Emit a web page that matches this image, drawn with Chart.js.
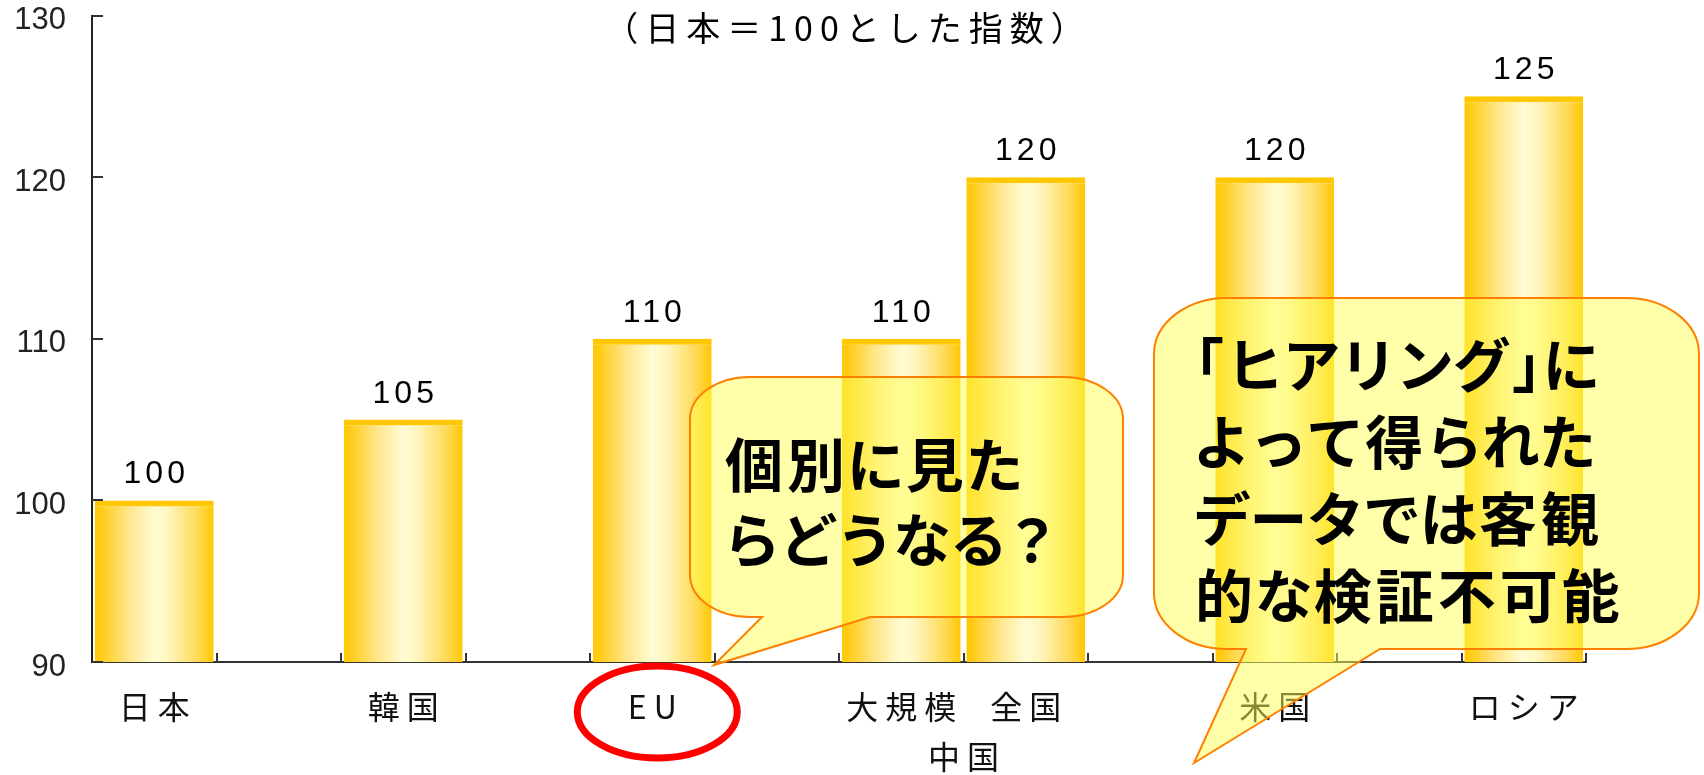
<!DOCTYPE html>
<html lang="ja">
<head>
<meta charset="utf-8">
<title>日本＝100とした指数</title>
<script src="https://cdn.jsdelivr.net/npm/chart.js@4.4.1/dist/chart.umd.min.js"></script>
<style>
  html, body { margin: 0; padding: 0; background: #fff; }
  #wrap { width: 1704px; height: 775px; position: relative; }
</style>
</head>
<body>
<div id="wrap"><canvas id="chart"></canvas></div>
<script>
// data (empty categories keep the gaps between the groups)
const categories = ['日本', '', '韓国', '', 'EU', '', '大規模', '全国', '', '米国', '', 'ロシア'];
const values = [100, null, 105, null, 110, null, 110, 120, null, 120, null, 125];
const yTicks = [90, 100, 110, 120, 130];
const groupLabels = [{ text: '中国', from: 6, to: 7 }];
const titleText = '（日本＝100とした指数）';
const note1 = ['個別に見た', 'らどうなる？'];
const note2 = ['「ヒアリング」に', 'よって得られた', 'データでは客観', '的な検証不可能'];

const JP = '"Noto Sans CJK JP", sans-serif';
const NUM = '"Liberation Sans", Arial, sans-serif';
const BAR_PCT = 0.955;
const LABEL_GAP = 7;

// callouts drawn on top (pixel positions of the overlay shapes)
const callouts = [
    { l: 690, t: 377, r: 1123, b: 617, rx: 60, ry: 42, baseL: 762, baseR: 870, tip: [714, 665],
      lines: note1, tx: 725, ty: 487, lh: 75 },
    { l: 1154, t: 298, r: 1699, b: 649, rx: 73, ry: 56, baseL: 1246, baseR: 1380, tip: [1194, 763],
      lines: note2, tx: 1195, ty: 387, lh: 77 }
];

function barFill(c) {
    const chart = c.chart;
    const x = chart.scales.x;
    if (c.dataIndex === undefined || !x || !chart.chartArea) return '#FFD84A';
    const cx = x.getPixelForValue(c.dataIndex);
    const half = x.width / categories.length * BAR_PCT / 2;
    const g = chart.ctx.createLinearGradient(cx - half, 0, cx + half, 0);
    g.addColorStop(0, '#FFC800');
    g.addColorStop(0.06, '#FFCC1A');
    g.addColorStop(0.28, '#FFE68A');
    g.addColorStop(0.5, '#FFFCD4');
    g.addColorStop(0.62, '#FFF6BE');
    g.addColorStop(0.86, '#FFDA5A');
    g.addColorStop(1, '#FFC800');
    return g;
}

function calloutPath(ctx, o) {
    ctx.beginPath();
    ctx.moveTo(o.l + o.rx, o.t);
    ctx.lineTo(o.r - o.rx, o.t);
    ctx.ellipse(o.r - o.rx, o.t + o.ry, o.rx, o.ry, 0, -Math.PI / 2, 0);
    ctx.lineTo(o.r, o.b - o.ry);
    ctx.ellipse(o.r - o.rx, o.b - o.ry, o.rx, o.ry, 0, 0, Math.PI / 2);
    ctx.lineTo(o.baseR, o.b);
    ctx.lineTo(o.tip[0], o.tip[1]);
    ctx.lineTo(o.baseL, o.b);
    ctx.lineTo(o.l + o.rx, o.b);
    ctx.ellipse(o.l + o.rx, o.b - o.ry, o.rx, o.ry, 0, Math.PI / 2, Math.PI);
    ctx.lineTo(o.l, o.t + o.ry);
    ctx.ellipse(o.l + o.rx, o.t + o.ry, o.rx, o.ry, 0, Math.PI, Math.PI * 1.5);
    ctx.closePath();
}

// proportional-ish Japanese line: kana a bit narrower, brackets half width
const halfChars = { '「': -0.5, '」': 0 };
function drawJP(ctx, text, x, y, size, gap) {
    for (const ch of text) {
        const w = ctx.measureText(ch).width;
        if (ch in halfChars) {
            ctx.fillText(ch, x + halfChars[ch] * size, y);
            x += size * 0.5 + gap;
        } else if (ch === '？') {
            ctx.fillText(ch, x - size * 0.1, y);
            x += w * 0.8 + gap;
        } else if (/[\u3040-\u30ff]/.test(ch)) {
            ctx.fillText(ch, x - w * 0.04, y);
            x += w * 0.91 + gap;
        } else {
            ctx.fillText(ch, x, y);
            x += w + gap;
        }
    }
}

const decor = {
    id: 'decor',
    afterDatasetsDraw(chart) {
        const { ctx, chartArea: a, scales: { x, y } } = chart;
        ctx.save();
        // inward tick marks
        ctx.strokeStyle = '#333';
        ctx.lineWidth = 2;
        ctx.beginPath();
        yTicks.forEach(v => {
            const py = Math.round(y.getPixelForValue(v));
            ctx.moveTo(a.left, py);
            ctx.lineTo(a.left + 11, py);
        });
        for (let i = 1; i <= categories.length; i++) {
            const px = Math.round(x.getPixelForValue(i - 0.5));
            ctx.moveTo(px, a.bottom);
            ctx.lineTo(px, a.bottom - 9);
        }
        ctx.stroke();

        // values above bars
        ctx.font = '32px ' + NUM;
        ctx.fillStyle = '#000';
        ctx.textAlign = 'center';
        ctx.textBaseline = 'alphabetic';
        ctx.letterSpacing = '4px';
        chart.getDatasetMeta(0).data.forEach((bar, i) => {
            if (values[i] == null) return;
            ctx.fillText(String(values[i]), bar.x + 2, bar.y - 17);
        });
        ctx.restore();
        // the x labels (ticks.z = 1) are drawn right after this: give them spacing
        ctx.letterSpacing = LABEL_GAP + 'px';
    },
    afterDraw(chart) {
        const { ctx, chartArea: a, scales: { x } } = chart;
        ctx.letterSpacing = '0px';
        ctx.save();

        // subtitle inside the plot
        ctx.font = '34px ' + JP;
        ctx.fillStyle = '#000';
        ctx.textAlign = 'center';
        ctx.textBaseline = 'alphabetic';
        ctx.letterSpacing = '7px';
        ctx.fillText(titleText, (a.left + a.right) / 2 + 9, a.top + 25);

        // group label under the two China bars
        ctx.letterSpacing = LABEL_GAP + 'px';
        ctx.font = '32px ' + JP;
        ctx.fillStyle = '#111';
        ctx.textBaseline = 'middle';
        groupLabels.forEach(gl => {
            const px = (x.getPixelForValue(gl.from) + x.getPixelForValue(gl.to)) / 2;
            ctx.fillText(gl.text, px + LABEL_GAP / 2, a.bottom + 95);
        });
        ctx.letterSpacing = '0px';

        // red ring round EU
        ctx.strokeStyle = '#FF0000';
        ctx.lineWidth = 7;
        ctx.beginPath();
        ctx.ellipse(x.getPixelForValue(categories.indexOf('EU')) + 5, a.bottom + 50, 80, 46, 0, 0, Math.PI * 2);
        ctx.stroke();

        // speech bubbles
        callouts.forEach(o => {
            calloutPath(ctx, o);
            ctx.fillStyle = 'rgba(255, 255, 85, 0.5)';
            ctx.fill();
            ctx.strokeStyle = '#FF8000';
            ctx.lineWidth = 2;
            ctx.stroke();
            ctx.fillStyle = '#000';
            ctx.font = 'bold 58px ' + JP;
            ctx.textAlign = 'left';
            ctx.textBaseline = 'alphabetic';
            o.lines.forEach((line, i) => drawJP(ctx, line, o.tx, o.ty + i * o.lh, 58, 4));
        });
        ctx.restore();
    }
};

new Chart(document.getElementById('chart'), {
    type: 'bar',
    data: {
        labels: categories,
        datasets: [{
            data: values,
            backgroundColor: barFill,
            borderColor: '#FFC800',
            borderWidth: { top: 6, left: 0, right: 0, bottom: 0 },
            barPercentage: BAR_PCT,
            categoryPercentage: 1
        }]
    },
    options: {
        responsive: true,
        maintainAspectRatio: false,
        animation: false,
        layout: { padding: { top: 15, right: 118, bottom: 0, left: 0 } },
        plugins: {
            legend: { display: false },
            tooltip: { enabled: false }
        },
        scales: {
            x: {
                grid: { display: false, drawTicks: false },
                border: { display: true, color: '#333', width: 2 },
                ticks: {
                    z: 1,
                    autoSkip: false,
                    maxRotation: 0,
                    padding: 26,
                    labelOffset: LABEL_GAP / 2,
                    color: '#111',
                    font: { family: JP, size: 32 }
                },
                afterFit(s) { s.height = 113; }
            },
            y: {
                min: yTicks[0],
                max: yTicks[yTicks.length - 1],
                grid: { display: false, drawTicks: true, tickLength: 26 },
                border: { display: true, color: '#222', width: 2 },
                ticks: {
                    stepSize: yTicks[1] - yTicks[0],
                    padding: 0,
                    labelOffset: 5,
                    color: '#222',
                    font: { family: NUM, size: 31, lineHeight: 1 }
                },
                afterFit(s) { s.width = 92; }
            }
        }
    },
    plugins: [decor]
});
</script>
</body>
</html>
